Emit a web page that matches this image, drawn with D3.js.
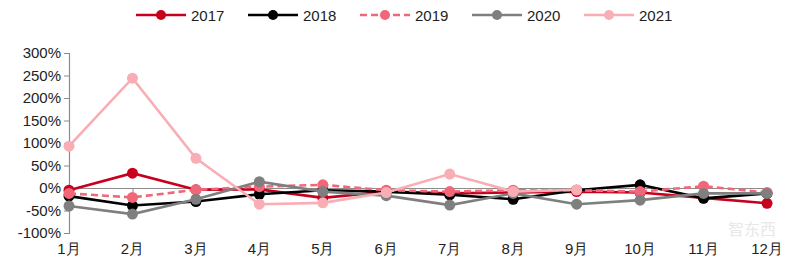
<!DOCTYPE html>
<html>
<head>
<meta charset="utf-8">
<script src="https://cdn.jsdelivr.net/npm/d3@7"></script>
<style>
  body { margin: 0; background: #fff; }
  svg { display: block; font-family: "Liberation Sans", Arial, sans-serif; }
</style>
</head>
<body>
<svg id="chart" width="800" height="271"></svg>
<script>
// Monthly growth rate (%)
const months = ['1月', '2月', '3月', '4月', '5月', '6月', '7月', '8月', '9月', '10月', '11月', '12月'];
const yTicks = [-100, -50, 0, 50, 100, 150, 200, 250, 300];

const v2017 = [-5, 33, -4, -3, -22, -8, -12, -10, -8, -10, -22, -34];
const v2018 = [-18, -39, -30, -14, -5, -8, -15, -25, -5, 7, -23, -12];
const v2019 = [-12, -21, -4, 3, 7, -5, -8, -5, -5, -8, 4, -10];
const v2020 = [-40, -58, -25, 14, -8, -17, -38, -12, -36, -27, -12, -12];
const v2021 = [93, 244, 66, -36, -33, -10, 31, -8, -4];

const series = [
  { name: '2017', values: v2017, color: '#C8001E', dash: null },
  { name: '2018', values: v2018, color: '#000000', dash: null },
  { name: '2019', values: v2019, color: '#F2667A', dash: '7,4' },
  { name: '2020', values: v2020, color: '#7F7F7F', dash: null },
  { name: '2021', values: v2021, color: '#F8AEB4', dash: null }
];

const svg = d3.select('#chart');

const x = d3.scalePoint().domain(months).range([69, 767]);
const y = d3.scaleLinear().domain([-100, 300]).range([233, 53]);

// y axis
const yAxis = svg.append('g')
  .attr('transform', 'translate(69,0)')
  .call(d3.axisLeft(y).tickValues(yTicks).tickSize(5).tickPadding(3).tickFormat(d => d + '%'));
yAxis.select('.domain').attr('stroke', '#8c8c8c').attr('stroke-width', 1.2);
yAxis.selectAll('.tick line').attr('stroke', '#8c8c8c');
yAxis.selectAll('.tick text').attr('fill', '#222').style('font-size', '15px');

// zero line with category ticks
const xAxis = svg.append('g')
  .attr('transform', `translate(0,${y(0)})`)
  .call(d3.axisBottom(x).tickSize(4).tickFormat(''));
xAxis.select('.domain').attr('stroke', '#8c8c8c').attr('stroke-width', 1.2);
xAxis.selectAll('.tick line').attr('stroke', '#8c8c8c');

// month labels at the bottom
svg.append('g')
  .selectAll('text')
  .data(months)
  .join('text')
  .attr('x', d => x(d))
  .attr('y', 254)
  .attr('text-anchor', 'middle')
  .attr('fill', '#222')
  .style('font-size', '15px')
  .text(d => d);

// watermark (faint)
svg.append('text')
  .attr('x', 752).attr('y', 235)
  .attr('text-anchor', 'middle')
  .attr('fill', '#e8e8e8')
  .style('font-size', '16px')
  .style('font-family', '"Noto Sans CJK SC", sans-serif')
  .text('智东西');

const line = d3.line()
  .x((d, i) => x(months[i]))
  .y(d => y(d));

series.forEach(s => {
  const g = svg.append('g');
  g.append('path')
    .datum(s.values)
    .attr('fill', 'none')
    .attr('stroke', s.color)
    .attr('stroke-width', 2.6)
    .attr('stroke-dasharray', s.dash)
    .attr('d', line);
  g.selectAll('circle')
    .data(s.values)
    .join('circle')
    .attr('cx', (d, i) => x(months[i]))
    .attr('cy', d => y(d))
    .attr('r', 5.5)
    .attr('fill', s.color);
});

// legend
const legend = svg.append('g');
const legendX = d3.scalePoint().domain(series.map(s => s.name)).range([136, 584]);
series.forEach(s => {
  const lx = legendX(s.name);
  const g = legend.append('g').attr('transform', `translate(${lx},15)`);
  g.append('line')
    .attr('x1', 0).attr('x2', 50)
    .attr('stroke', s.color)
    .attr('stroke-width', 2.6)
    .attr('stroke-dasharray', s.dash);
  g.append('circle').attr('cx', 25).attr('r', 5).attr('fill', s.color);
  g.append('text')
    .attr('x', 55).attr('y', 5.5)
    .attr('fill', '#222')
    .style('font-size', '15px')
    .text(s.name);
});
</script>
</body>
</html>
